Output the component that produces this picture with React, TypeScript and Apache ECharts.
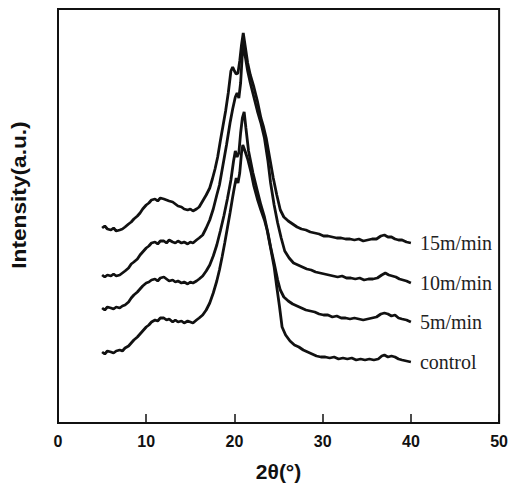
import React, { useEffect, useRef } from "react";
import * as echarts from "echarts";

const xTicks = [0, 10, 20, 30, 40, 50];
const seriesNames = ["15m/min", "10m/min", "5m/min", "control"];

const s15: number[][] = [[5.0,195],[5.3,197],[5.6,194],[6.0,193],[6.3,195],[6.6,192],[7.0,193],[7.3,194],[7.6,196],[8.0,199],[8.3,201],[8.6,204],[9.0,207],[9.3,210],[9.6,214],[10.0,218],[10.3,220],[10.6,223],[11.0,224],[11.3,222],[11.6,225],[12.0,224],[12.3,223],[12.6,222],[13.0,221],[13.3,219],[13.6,217],[14.0,216],[14.3,214],[14.7,213],[15.0,214],[15.3,212],[15.7,214],[16.0,216],[16.4,222],[16.8,228],[17.2,235],[17.5,244],[17.8,254],[18.1,266],[18.4,282],[18.7,297],[19.0,312],[19.3,330],[19.6,352],[19.8,356],[20.0,352],[20.2,349],[20.4,350],[20.6,362],[20.8,378],[21.0,390],[21.2,378],[21.5,360],[21.8,348],[22.2,336],[22.6,322],[23.0,305],[23.3,296],[23.6,285],[24.0,265],[24.4,245],[24.8,228],[25.2,213],[25.6,206],[26.1,202],[26.6,199],[27.1,196],[27.6,194],[28.1,193],[28.6,191],[29.1,190],[29.6,189],[30.1,187],[30.6,187],[31.1,186],[31.6,185],[32.1,185],[32.6,184],[33.1,184],[33.6,183],[34.1,184],[34.6,182],[35.1,183],[35.6,184],[36.1,184],[36.6,187],[37.0,188],[37.4,186],[37.8,186],[38.2,184],[38.6,183],[39.0,183],[39.5,181],[40.0,180]];

const s10: number[][] = [[5.0,148],[5.3,146],[5.6,148],[6.0,147],[6.3,149],[6.6,147],[7.0,148],[7.3,150],[7.6,152],[8.0,155],[8.3,159],[8.6,161],[9.0,164],[9.3,168],[9.6,171],[10.0,175],[10.3,177],[10.6,180],[11.0,181],[11.3,179],[11.6,182],[12.0,182],[12.3,180],[12.6,183],[13.0,181],[13.3,180],[13.6,182],[14.0,180],[14.3,181],[14.7,179],[15.0,181],[15.3,180],[15.7,183],[16.0,185],[16.4,188],[16.8,195],[17.2,203],[17.6,214],[18.0,228],[18.3,238],[18.7,258],[19.1,278],[19.5,300],[19.8,314],[20.1,326],[20.3,330],[20.5,325],[20.7,340],[20.9,370],[21.0,385],[21.2,368],[21.5,352],[21.8,340],[22.2,326],[22.6,312],[23.0,300],[23.4,285],[23.8,262],[24.1,240],[24.5,218],[24.9,200],[25.3,185],[25.7,172],[26.2,165],[26.7,160],[27.2,158],[27.7,156],[28.2,154],[28.7,153],[29.2,151],[29.7,150],[30.2,149],[30.7,148],[31.2,147],[31.7,146],[32.2,147],[32.7,145],[33.2,145],[33.7,144],[34.2,145],[34.7,143],[35.2,144],[35.7,144],[36.2,145],[36.7,148],[37.1,150],[37.5,148],[37.9,147],[38.3,146],[38.7,144],[39.1,143],[39.5,142],[40.0,140]];

const s5: number[][] = [[5.0,115],[5.3,113],[5.6,116],[6.0,115],[6.3,114],[6.6,116],[7.0,115],[7.3,117],[7.6,118],[8.0,121],[8.3,125],[8.6,128],[9.0,131],[9.3,134],[9.6,137],[10.0,140],[10.3,141],[10.6,143],[11.0,144],[11.3,142],[11.6,145],[12.0,146],[12.3,144],[12.6,142],[13.0,143],[13.3,141],[13.6,142],[14.0,140],[14.3,141],[14.7,139],[15.0,141],[15.3,140],[15.7,142],[16.0,144],[16.4,147],[16.8,152],[17.2,158],[17.6,167],[18.0,178],[18.4,192],[18.8,207],[19.2,224],[19.6,243],[19.9,262],[20.1,272],[20.3,266],[20.5,270],[20.7,290],[20.9,305],[21.1,311],[21.3,295],[21.6,272],[22.1,250],[22.6,232],[23.0,218],[23.4,206],[23.8,190],[24.1,176],[24.5,160],[24.9,143],[25.2,133],[25.6,126],[26.1,122],[26.6,119],[27.1,117],[27.6,115],[28.1,113],[28.6,112],[29.1,111],[29.6,109],[30.1,108],[30.6,108],[31.1,106],[31.6,107],[32.1,105],[32.6,105],[33.1,104],[33.6,105],[34.1,104],[34.6,103],[35.1,104],[35.6,105],[36.1,106],[36.6,109],[37.0,110],[37.4,109],[37.8,107],[38.2,108],[38.6,105],[39.0,104],[39.5,103],[40.0,101]];

const sControl: number[][] = [[5.0,71],[5.3,69],[5.6,72],[6.0,71],[6.3,70],[6.6,72],[7.0,73],[7.3,72],[7.6,75],[8.0,77],[8.3,80],[8.6,83],[9.0,86],[9.3,89],[9.6,92],[10.0,96],[10.3,98],[10.6,101],[11.0,103],[11.3,102],[11.6,105],[12.0,105],[12.3,103],[12.6,104],[13.0,101],[13.3,103],[13.6,101],[14.0,102],[14.3,100],[14.7,102],[15.0,101],[15.3,100],[15.7,103],[16.0,105],[16.4,108],[16.8,113],[17.2,120],[17.6,130],[18.0,142],[18.3,153],[18.6,166],[18.9,180],[19.2,195],[19.5,210],[19.8,226],[20.0,236],[20.2,245],[20.4,240],[20.6,250],[20.8,270],[20.95,278],[21.2,272],[21.5,264],[21.9,250],[22.2,237],[22.6,224],[23.0,213],[23.4,203],[23.7,193],[24.1,175],[24.5,156],[24.8,136],[25.1,117],[25.4,96],[25.8,88],[26.3,82],[26.8,78],[27.3,76],[27.8,73],[28.3,71],[28.8,69],[29.3,67],[29.8,66],[30.3,66],[30.8,65],[31.3,66],[31.8,64],[32.3,65],[32.8,64],[33.3,65],[33.8,63],[34.3,64],[34.8,63],[35.3,64],[35.8,63],[36.3,64],[36.7,67],[37.0,68],[37.4,66],[37.8,67],[38.2,66],[38.6,64],[39.0,63],[39.5,62],[40.0,61]];

const seriesData = [s15, s10, s5, sControl];

export default function App() {
  const ref = useRef<HTMLDivElement>(null);
  useEffect(() => {
    if (!ref.current) return;
    const chart = echarts.init(ref.current, undefined, { renderer: "svg" });
    const sans = "'Liberation Sans', Arial, sans-serif";
    chart.setOption({
      animation: false,
      backgroundColor: "#ffffff",
      grid: {
        left: 58,
        right: 9,
        top: 9,
        bottom: 65,
        show: true,
        borderColor: "#111",
        borderWidth: 2,
        backgroundColor: "transparent",
      },
      xAxis: {
        type: "value",
        min: xTicks[0],
        max: xTicks[xTicks.length - 1],
        interval: 10,
        name: "2θ(°)",
        nameLocation: "middle",
        nameGap: 38,
        nameTextStyle: { fontFamily: sans, fontWeight: "bold", fontSize: 21, color: "#111" },
        axisLine: { show: true, lineStyle: { color: "#111", width: 2 } },
        axisTick: { show: true, inside: true, length: 9, lineStyle: { color: "#111", width: 1.5 } },
        axisLabel: { fontFamily: sans, fontWeight: "bold", fontSize: 16, color: "#111", margin: 10, showMaxLabel: true, showMinLabel: true },
        splitLine: { show: false },
      },
      yAxis: {
        type: "value",
        min: 0,
        max: 414,
        axisLine: { show: false },
        axisTick: { show: false },
        axisLabel: { show: false },
        splitLine: { show: false },
      },
      graphic: [
        {
          type: "text",
          x: 19,
          y: 195,
          rotation: Math.PI / 2,
          scaleX: 1.08,
          style: {
            text: "Intensity(a.u.)",
            fontFamily: sans,
            fontWeight: "bold",
            fontSize: 21,
            fill: "#111",
            align: "center",
            verticalAlign: "middle",
          },
        },
      ],
      series: seriesData.map((d, i) => ({
        type: "line",
        name: seriesNames[i],
        data: d,
        showSymbol: false,
        symbol: "none",
        clip: false,
        lineStyle: { color: "#111", width: 2.8 },
        endLabel: {
          show: true,
          formatter: seriesNames[i],
          distance: 9,
          fontFamily: "'Liberation Serif', 'Times New Roman', serif",
          fontSize: 20,
          color: "#222",
        },
      })),
    });
    return () => chart.dispose();
  }, []);
  return (
    <div
      ref={ref}
      style={{ position: "absolute", left: 0, top: 0, width: 511, height: 488 }}
    />
  );
}
